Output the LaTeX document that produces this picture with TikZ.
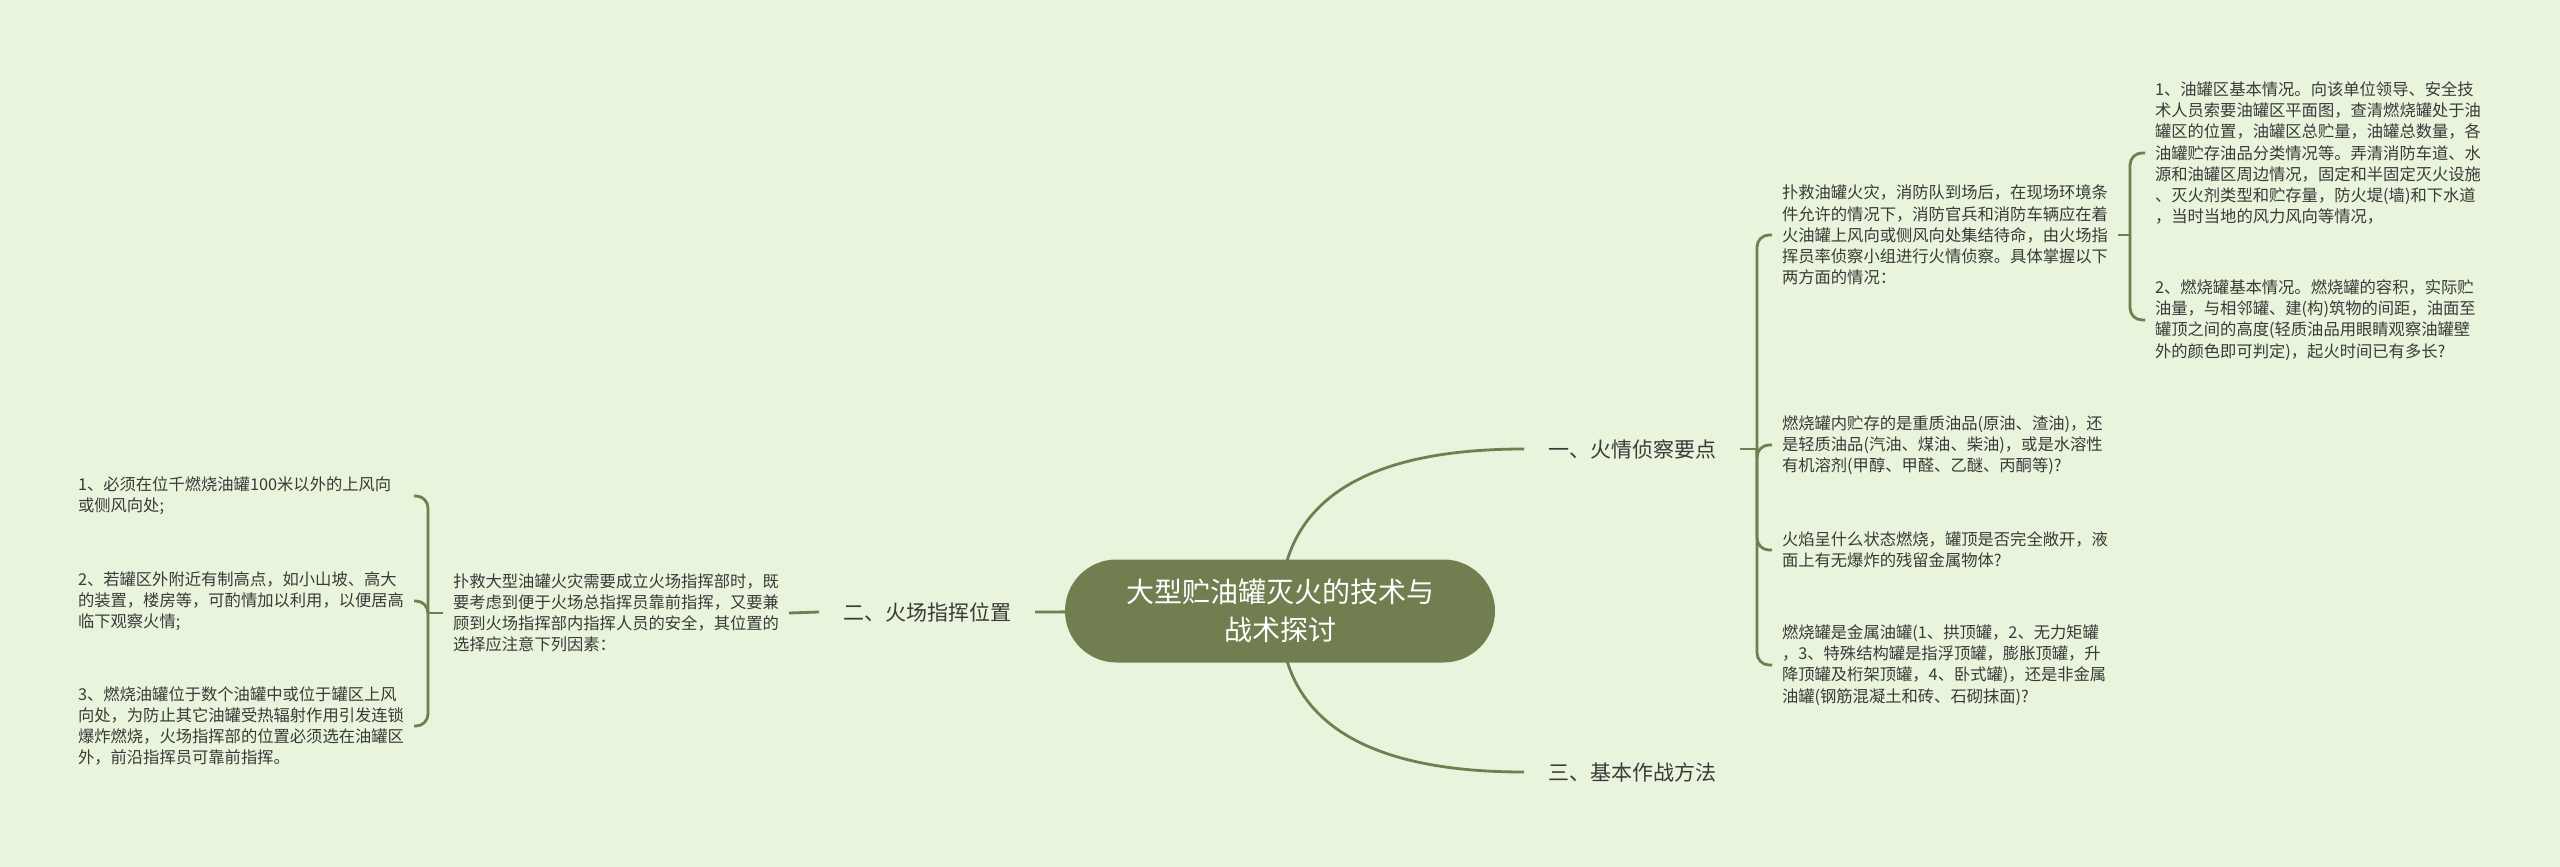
\documentclass[tikz,border=0pt]{standalone}
\usepackage{fontspec}
\setmainfont{Noto Sans CJK SC}
\usetikzlibrary{calc,backgrounds}
\definecolor{bgc}{HTML}{E8F4DB}
\definecolor{olive}{HTML}{717E50}
\definecolor{txt}{HTML}{3A3A3A}
\begin{document}
\begin{tikzpicture}[x=1pt,y=-1pt,
  every node/.style={inner sep=0pt, outer sep=0pt, text=txt},
  leaf/.style={align=left, text width=326pt, inner xsep=10pt, inner ysep=4pt, anchor=west,
    font=\fontsize{16.3pt}{21.2pt}\selectfont},
  branch/.style={font=\fontsize{21pt}{26pt}\selectfont, inner xsep=24pt, inner ysep=4pt, anchor=west},
  rootbox/.style={fill=olive, text=white, align=center, minimum width=430pt, minimum height=103pt,
    rounded corners=51.5pt, font=\fontsize{28pt}{38pt}\selectfont},
  conn/.style={draw=olive, line width=2.8pt, rounded corners=12pt},
  curve/.style={draw=olive, line width=2.8pt},
]
\begin{pgfonlayer}{background}
\fill[bgc] (0,0) rectangle (2560,867);
\end{pgfonlayer}
\useasboundingbox (0,0) rectangle (2560,867);

% root
\node[rootbox] (root) at (1280,611) {大型贮油罐灭火的技术与\\战术探讨};

% branches
\node[branch] (one) at (1524,449) {一、火情侦察要点};
\node[branch] (two) at (819,612) {二、火场指挥位置};
\node[branch] (three) at (1524,772) {三、基本作战方法};

% left side
\node[leaf] (lp) at (443,613) {扑救大型油罐火灾需要成立火场指挥部时，既\\要考虑到便于火场总指挥员靠前指挥，又要兼\\顾到火场指挥部内指挥人员的安全，其位置的\\选择应注意下列因素：};
\node[leaf] (l1) at (68,496) {1、必须在位千燃烧油罐100米以外的上风向\\或侧风向处;};
\node[leaf] (l2) at (68,601) {2、若罐区外附近有制高点，如小山坡、高大\\的装置，楼房等，可酌情加以利用，以便居高\\临下观察火情;};
\node[leaf] (l3) at (68,726) {3、燃烧油罐位于数个油罐中或位于罐区上风\\向处，为防止其它油罐受热辐射作用引发连锁\\爆炸燃烧，火场指挥部的位置必须选在油罐区\\外，前沿指挥员可靠前指挥。};

% right side
\node[leaf] (r1) at (1772,235) {扑救油罐火灾，消防队到场后，在现场环境条\\件允许的情况下，消防官兵和消防车辆应在着\\火油罐上风向或侧风向处集结待命，由火场指\\挥员率侦察小组进行火情侦察。具体掌握以下\\两方面的情况：};
\node[leaf] (r2) at (1772,445) {燃烧罐内贮存的是重质油品(原油、渣油)，还\\是轻质油品(汽油、煤油、柴油)，或是水溶性\\有机溶剂(甲醇、甲醛、乙醚、丙酮等)?};
\node[leaf] (r3) at (1772,550) {火焰呈什么状态燃烧，罐顶是否完全敞开，液\\面上有无爆炸的残留金属物体?};
\node[leaf] (r4) at (1772,665) {燃烧罐是金属油罐(1、拱顶罐，2、无力矩罐\\，3、特殊结构罐是指浮顶罐，膨胀顶罐，升\\降顶罐及桁架顶罐，4、卧式罐)，还是非金属\\油罐(钢筋混凝土和砖、石砌抹面)?};
\node[leaf] (g1) at (2145,153) {1、油罐区基本情况。向该单位领导、安全技\\术人员索要油罐区平面图，查清燃烧罐处于油\\罐区的位置，油罐区总贮量，油罐总数量，各\\油罐贮存油品分类情况等。弄清消防车道、水\\源和油罐区周边情况，固定和半固定灭火设施\\、灭火剂类型和贮存量，防火堤(墙)和下水道\\，当时当地的风力风向等情况，};
\node[leaf] (g2) at (2145,320) {2、燃烧罐基本情况。燃烧罐的容积，实际贮\\油量，与相邻罐、建(构)筑物的间距，油面至\\罐顶之间的高度(轻质油品用眼睛观察油罐壁\\外的颜色即可判定)，起火时间已有多长?};

% connectors from root (behind root)
\begin{pgfonlayer}{background}
\draw[curve] (root.center) .. controls ($(root.center)!0.667!(root.center|-one.west)$) and ($(one.west)!0.667!(root.center|-one.west)$) .. (one.west);
\draw[curve] (root.center) .. controls ($(root.center)!0.667!(root.center|-three.west)$) and ($(three.west)!0.667!(root.center|-three.west)$) .. (three.west);
\draw[curve] (root.center) -- (two.east);
\end{pgfonlayer}

\draw[curve] (two.west) -- (lp.east);

% left bracket
\draw[conn] (lp.west) -- ++(-15,0) coordinate (jl);
\draw[conn] (jl) |- (l1.east);
\draw[conn] (jl) |- (l2.east);
\draw[conn] (jl) |- (l3.east);

% right bracket
\draw[conn] (one.east) -- ++(17,0) coordinate (jr);
\draw[conn] (jr) |- (r1.west);
\draw[conn] (jr) |- (r2.west);
\draw[conn] (jr) |- (r3.west);
\draw[conn] (jr) |- (r4.west);

% second right bracket
\draw[conn] (r1.east) -- ++(12,0) coordinate (jg);
\draw[conn] (jg) |- (g1.west);
\draw[conn] (jg) |- (g2.west);
\end{tikzpicture}
\end{document}
